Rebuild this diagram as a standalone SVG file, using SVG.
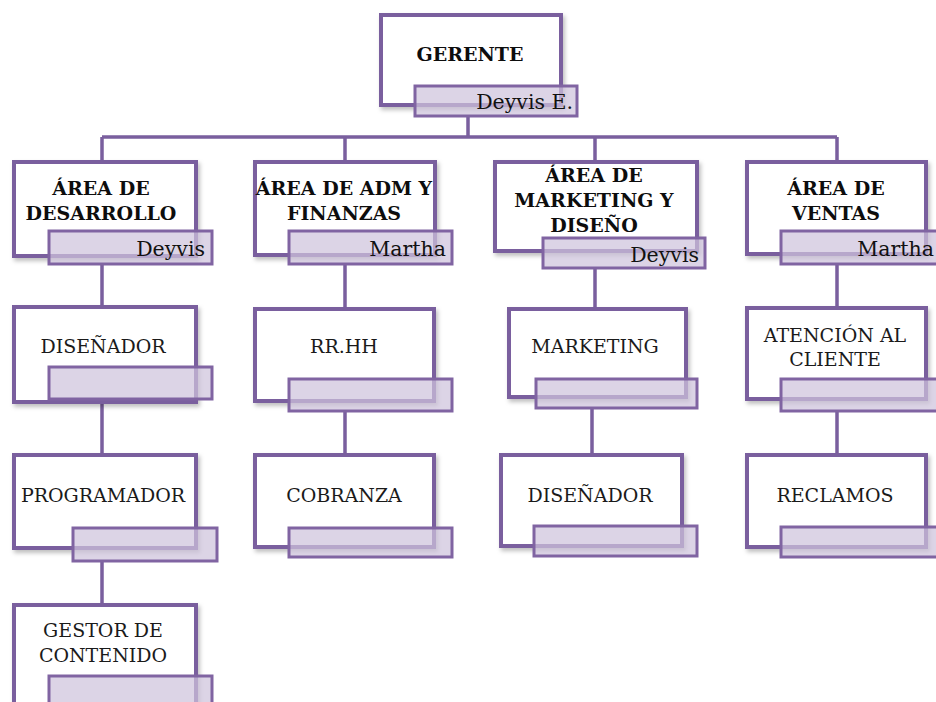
<svg xmlns="http://www.w3.org/2000/svg" width="936" height="702" viewBox="0 0 936 702">
<defs>
<filter id="sh" x="-10%" y="-10%" width="130%" height="130%">
<feDropShadow dx="2" dy="3" stdDeviation="2" flood-color="#000" flood-opacity="0.25"/>
</filter>
<style>
.box{fill:#fff;stroke:#7a5f9e;stroke-width:4;filter:url(#sh)}
.nb{fill:#cfc4dc;fill-opacity:0.72;stroke:#8064a2;stroke-width:3}
.ln{stroke:#7a5f9e;stroke-width:3.5;fill:none}
.t{font-family:"DejaVu Serif","Liberation Serif",serif;font-size:19px;fill:#1a1a1a;text-anchor:middle}
.b{font-weight:bold;fill:#0d0d0d}
.n{font-family:"DejaVu Serif","Liberation Serif",serif;font-size:20.5px;fill:#111;text-anchor:end}
</style>
</defs>
<rect width="936" height="702" fill="#fff"/>
<g id="connectors">
<path class="ln" d="M468 117V137M102 137H837M102 137V160M345 137V160M595 137V160M837 137V160"/>
<path class="ln" d="M102 265V305M102 400V453M102 562V603"/>
<path class="ln" d="M345 265V307M345 412V453"/>
<path class="ln" d="M595 269V307M592 409V453"/>
<path class="ln" d="M837 265V306M837 412V453"/>
</g>
<g id="gerente">
<rect class="box" x="381" y="15" width="180" height="90"/>
<text class="t b" x="470" y="61">GERENTE</text>
<rect class="nb" x="415" y="86" width="162" height="30"/>
<text class="n" x="573" y="109">Deyvis E.</text>
</g>
<g id="area-desarrollo">
<rect class="box" x="14" y="162" width="182" height="94"/>
<text class="t b" x="101" y="195">ÁREA DE</text>
<text class="t b" x="101" y="220">DESARROLLO</text>
<rect class="nb" x="49" y="231" width="163" height="33"/>
<text class="n" x="205" y="256">Deyvis</text>
</g>
<g id="area-adm">
<rect class="box" x="255" y="162" width="180" height="93"/>
<text class="t b" x="344" y="195">ÁREA DE ADM Y</text>
<text class="t b" x="344" y="220">FINANZAS</text>
<rect class="nb" x="289" y="231" width="163" height="33"/>
<text class="n" x="446" y="256">Martha</text>
</g>
<g id="area-marketing">
<rect class="box" x="495" y="162" width="202" height="89"/>
<text class="t b" x="594" y="182">ÁREA DE</text>
<text class="t b" x="594" y="207">MARKETING Y</text>
<text class="t b" x="594" y="232">DISEÑO</text>
<rect class="nb" x="543" y="238" width="162" height="30"/>
<text class="n" x="699" y="262">Deyvis</text>
</g>
<g id="area-ventas">
<rect class="box" x="747" y="162" width="179" height="92"/>
<text class="t b" x="836" y="195">ÁREA DE</text>
<text class="t b" x="836" y="220">VENTAS</text>
<rect class="nb" x="781" y="231" width="163" height="33"/>
<text class="n" x="934" y="256">Martha</text>
</g>
<g id="disenador-1">
<rect class="box" x="14" y="307" width="182" height="95"/>
<text class="t" x="103" y="353">DISEÑADOR</text>
<rect class="nb" x="49" y="367" width="163" height="32"/>
</g>
<g id="programador">
<rect class="box" x="14" y="455" width="182" height="93"/>
<text class="t" x="103" y="502">PROGRAMADOR</text>
<rect class="nb" x="73" y="528" width="144" height="33"/>
</g>
<g id="gestor">
<rect class="box" x="14" y="605" width="182" height="100"/>
<text class="t" x="103" y="637">GESTOR DE</text>
<text class="t" x="103" y="662">CONTENIDO</text>
<rect class="nb" x="49" y="676" width="163" height="33"/>
</g>
<g id="rrhh">
<rect class="box" x="255" y="309" width="179" height="92"/>
<text class="t" x="344" y="353">RR.HH</text>
<rect class="nb" x="289" y="379" width="163" height="32"/>
</g>
<g id="cobranza">
<rect class="box" x="255" y="455" width="179" height="92"/>
<text class="t" x="344" y="502">COBRANZA</text>
<rect class="nb" x="289" y="528" width="163" height="29"/>
</g>
<g id="marketing">
<rect class="box" x="509" y="309" width="177" height="88"/>
<text class="t" x="595" y="353">MARKETING</text>
<rect class="nb" x="536" y="379" width="161" height="29"/>
</g>
<g id="disenador-2">
<rect class="box" x="501" y="455" width="181" height="91"/>
<text class="t" x="590" y="502">DISEÑADOR</text>
<rect class="nb" x="534" y="526" width="163" height="30"/>
</g>
<g id="atencion">
<rect class="box" x="747" y="308" width="179" height="91"/>
<text class="t" x="835" y="342">ATENCIÓN AL</text>
<text class="t" x="835" y="366">CLIENTE</text>
<rect class="nb" x="781" y="379" width="163" height="32"/>
</g>
<g id="reclamos">
<rect class="box" x="747" y="455" width="179" height="92"/>
<text class="t" x="835" y="502">RECLAMOS</text>
<rect class="nb" x="781" y="527" width="163" height="30"/>
</g>
</svg>
